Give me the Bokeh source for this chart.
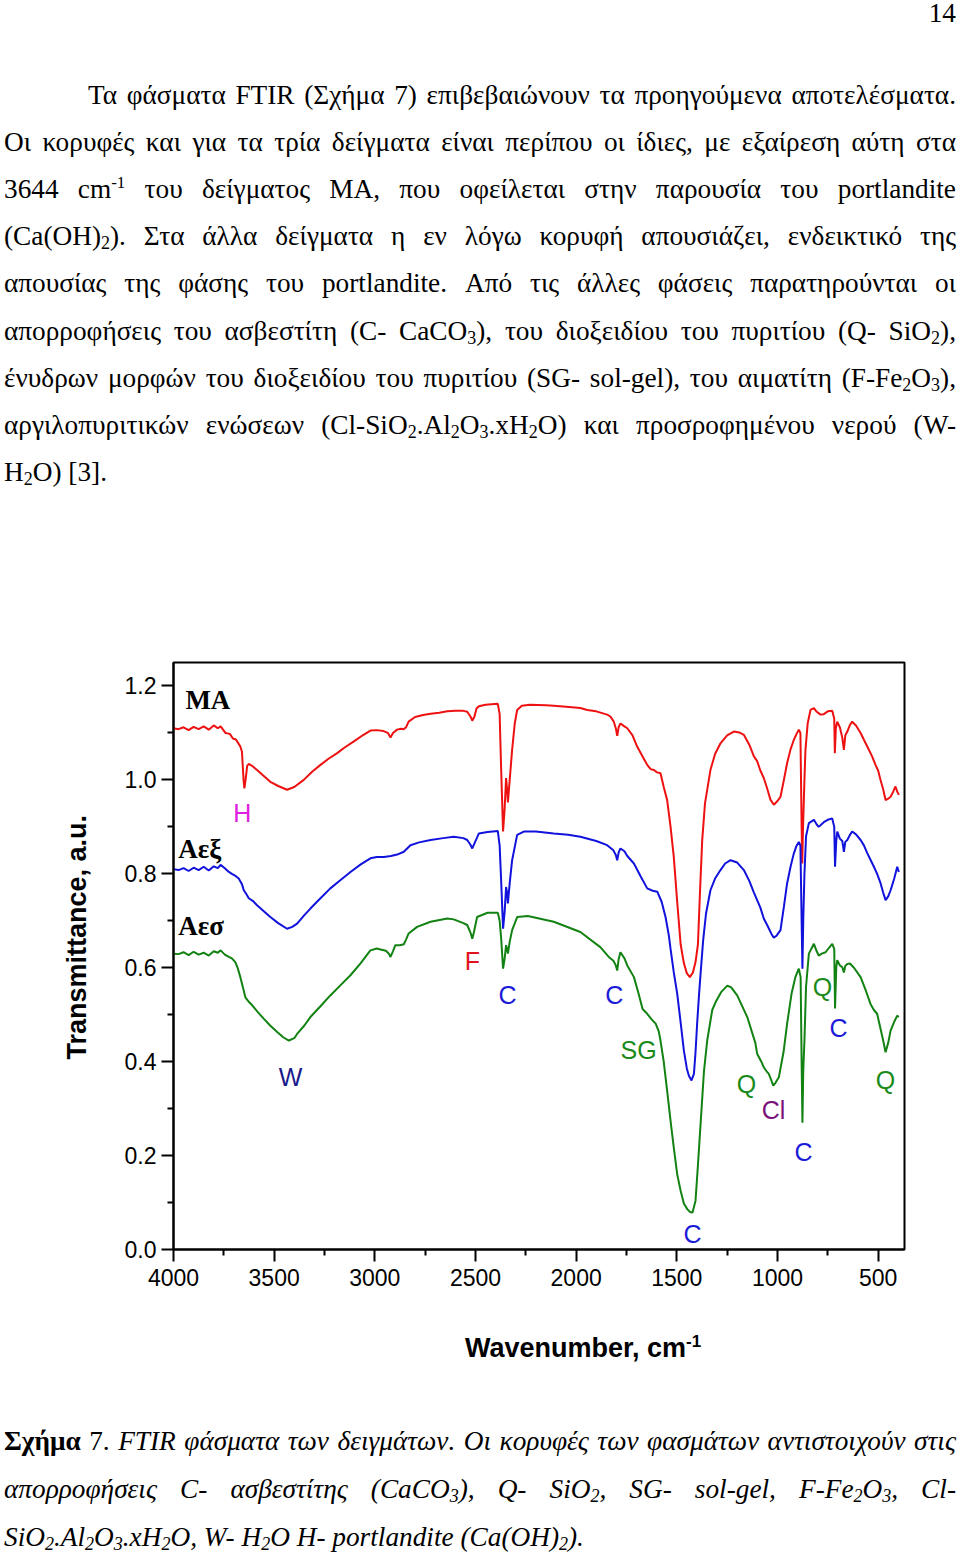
from bokeh.plotting import figure
from bokeh.models import Range1d, FixedTicker, NumeralTickFormatter, Div, ColumnDataSource
from bokeh.layouts import column
from bokeh.embed import file_html
from bokeh.resources import INLINE
from bokeh.core.properties import value

# ---------------- data ----------------
ma_wn = [4000, 3975, 3950, 3925, 3900, 3875, 3850, 3825, 3800, 3780, 3766, 3742, 3720, 3705, 3690, 3684,
         3668, 3660, 3652, 3648, 3642, 3634, 3626, 3610, 3585, 3550, 3519, 3480, 3436, 3400, 3353, 3310,
         3270, 3230, 3187, 3150, 3104, 3060, 3022, 2990, 2957, 2935, 2922, 2910, 2889, 2870, 2857, 2845,
         2832, 2800, 2760, 2723, 2680, 2640, 2600, 2560, 2541, 2525, 2516, 2505, 2495, 2483, 2450, 2420,
         2389, 2380, 2373, 2363, 2355, 2348, 2343, 2339, 2330, 2318, 2305, 2293, 2270, 2230, 2150, 2111,
         2050, 1979, 1945, 1900, 1846, 1830, 1813, 1803, 1796, 1789, 1780, 1760, 1746, 1720, 1697, 1670,
         1647, 1630, 1614, 1598, 1581, 1565, 1548, 1531, 1515, 1498, 1481, 1465, 1450, 1435, 1420, 1407,
         1395, 1385, 1374, 1360, 1333, 1310, 1283, 1250, 1217, 1190, 1167, 1140, 1117, 1101, 1085, 1068,
         1050, 1035, 1018, 1000, 985, 968, 952, 935, 919, 905, 894, 886, 880, 877, 873, 866, 861, 850,
         836, 819, 805, 786, 770, 750, 728, 718, 715, 710, 703, 690, 678, 670, 663, 653, 640, 629, 610,
         587, 570, 554, 530, 513, 500, 488, 475, 463, 450, 438, 425, 414, 405, 397]
ma_t = [1.110, 1.108, 1.112, 1.106, 1.113, 1.108, 1.114, 1.107, 1.116, 1.110, 1.114, 1.100, 1.098, 1.088,
        1.086, 1.082, 1.071, 1.060, 1.000, 0.982, 1.000, 1.030, 1.034, 1.030, 1.021, 1.008, 0.996, 0.987,
        0.979, 0.985, 1.000, 1.018, 1.032, 1.045, 1.057, 1.069, 1.082, 1.095, 1.105, 1.106, 1.104, 1.100,
        1.090, 1.100, 1.107, 1.109, 1.108, 1.112, 1.124, 1.134, 1.138, 1.141, 1.143, 1.146, 1.147, 1.147,
        1.145, 1.135, 1.126, 1.135, 1.152, 1.157, 1.160, 1.161, 1.162, 1.140, 1.030, 0.890, 0.940, 1.004,
        0.980, 0.952, 1.000, 1.064, 1.120, 1.149, 1.158, 1.160, 1.159, 1.158, 1.156, 1.153, 1.149, 1.146,
        1.139, 1.135, 1.124, 1.110, 1.094, 1.112, 1.120, 1.114, 1.110, 1.095, 1.071, 1.050, 1.032, 1.023,
        1.021, 1.016, 1.014, 0.985, 0.957, 0.900, 0.836, 0.740, 0.650, 0.610, 0.588, 0.580, 0.590, 0.612,
        0.650, 0.760, 0.870, 0.950, 1.021, 1.055, 1.078, 1.095, 1.103, 1.101, 1.096, 1.075, 1.050, 1.040,
        1.020, 1.004, 0.980, 0.958, 0.947, 0.955, 0.964, 1.000, 1.036, 1.065, 1.085, 1.098, 1.107, 1.100,
        0.900, 0.822, 0.900, 1.000, 1.064, 1.120, 1.149, 1.153, 1.145, 1.139, 1.140, 1.146, 1.147, 1.130,
        1.057, 1.110, 1.124, 1.112, 1.090, 1.064, 1.095, 1.103, 1.117, 1.124, 1.116, 1.100, 1.085, 1.071,
        1.050, 1.032, 1.020, 1.000, 0.980, 0.957, 0.960, 0.964, 0.975, 0.986, 0.975, 0.968]

aex_wn = [4000, 3975, 3950, 3925, 3900, 3875, 3850, 3825, 3800, 3780, 3766, 3745, 3725, 3710, 3690, 3676,
          3660, 3651, 3640, 3626, 3605, 3585, 3550, 3519, 3480, 3436, 3410, 3386, 3350, 3320, 3270, 3221,
          3170, 3121, 3070, 3022, 2990, 2955, 2920, 2889, 2856, 2823, 2780, 2723, 2660, 2608, 2560, 2541,
          2525, 2516, 2505, 2483, 2440, 2389, 2380, 2372, 2363, 2355, 2348, 2343, 2339, 2330, 2318, 2293,
          2260, 2200, 2111, 2040, 1979, 1900, 1846, 1815, 1803, 1796, 1789, 1780, 1760, 1746, 1713, 1680,
          1647, 1620, 1597, 1575, 1556, 1540, 1531, 1515, 1498, 1480, 1465, 1450, 1440, 1427, 1415, 1407,
          1399, 1390, 1382, 1369, 1355, 1333, 1310, 1283, 1260, 1233, 1200, 1167, 1140, 1117, 1101, 1085,
          1068, 1050, 1030, 1018, 1005, 985, 968, 952, 935, 919, 905, 894, 886, 880, 876, 872, 866, 858,
          844, 819, 805, 795, 770, 750, 728, 718, 714, 708, 703, 690, 678, 670, 663, 653, 640, 629, 610,
          587, 570, 554, 538, 521, 505, 488, 475, 463, 450, 438, 420, 405, 400, 397]
aex_t = [0.810, 0.808, 0.812, 0.806, 0.813, 0.808, 0.815, 0.807, 0.816, 0.812, 0.819, 0.812, 0.804, 0.800,
         0.795, 0.790, 0.778, 0.765, 0.758, 0.748, 0.742, 0.733, 0.720, 0.708, 0.695, 0.683, 0.687, 0.694,
         0.712, 0.726, 0.748, 0.769, 0.787, 0.804, 0.820, 0.833, 0.836, 0.836, 0.838, 0.841, 0.847, 0.861,
         0.867, 0.872, 0.876, 0.879, 0.876, 0.872, 0.862, 0.854, 0.865, 0.886, 0.889, 0.891, 0.860, 0.780,
         0.683, 0.720, 0.772, 0.760, 0.737, 0.780, 0.829, 0.883, 0.890, 0.890, 0.886, 0.883, 0.879, 0.870,
         0.861, 0.850, 0.840, 0.829, 0.845, 0.854, 0.848, 0.838, 0.822, 0.795, 0.769, 0.764, 0.762, 0.740,
         0.708, 0.670, 0.640, 0.590, 0.545, 0.480, 0.424, 0.385, 0.370, 0.360, 0.374, 0.420, 0.481, 0.540,
         0.587, 0.659, 0.715, 0.765, 0.790, 0.808, 0.822, 0.829, 0.824, 0.808, 0.785, 0.760, 0.744, 0.728,
         0.705, 0.690, 0.672, 0.664, 0.668, 0.680, 0.730, 0.780, 0.815, 0.843, 0.860, 0.868, 0.860, 0.700,
         0.598, 0.700, 0.800, 0.880, 0.908, 0.915, 0.905, 0.900, 0.910, 0.915, 0.918, 0.900, 0.815, 0.870,
         0.890, 0.875, 0.870, 0.847, 0.868, 0.872, 0.883, 0.890, 0.884, 0.872, 0.860, 0.844, 0.830, 0.815,
         0.800, 0.780, 0.760, 0.744, 0.752, 0.765, 0.790, 0.815, 0.808, 0.804]

aes_wn = [4000, 3975, 3950, 3925, 3900, 3875, 3850, 3825, 3800, 3780, 3766, 3745, 3725, 3710, 3693, 3680,
          3668, 3655, 3643, 3625, 3609, 3580, 3551, 3520, 3485, 3455, 3427, 3400, 3386, 3350, 3320, 3270,
          3221, 3170, 3121, 3070, 3022, 2990, 2972, 2945, 2930, 2922, 2910, 2898, 2875, 2856, 2845, 2832,
          2790, 2723, 2640, 2608, 2560, 2541, 2525, 2516, 2508, 2492, 2440, 2389, 2380, 2372, 2363, 2355,
          2348, 2343, 2339, 2330, 2318, 2293, 2240, 2111, 1979, 1880, 1838, 1815, 1803, 1796, 1789, 1780,
          1760, 1746, 1713, 1690, 1670, 1647, 1625, 1605, 1590, 1581, 1565, 1548, 1530, 1515, 1498, 1481,
          1465, 1448, 1435, 1422, 1407, 1395, 1382, 1365, 1349, 1324, 1307, 1280, 1249, 1230, 1200, 1150,
          1110, 1101, 1080, 1068, 1055, 1043, 1032, 1021, 1010, 993, 970, 952, 930, 911, 894, 885, 880,
          876, 872, 866, 858, 844, 819, 805, 795, 780, 761, 745, 728, 718, 714, 708, 703, 690, 678, 670,
          663, 653, 640, 620, 587, 560, 538, 521, 505, 488, 475, 463, 450, 438, 420, 405, 397]
aes_t = [0.630, 0.629, 0.633, 0.627, 0.634, 0.628, 0.632, 0.626, 0.635, 0.632, 0.637, 0.628, 0.623, 0.620,
         0.612, 0.598, 0.580, 0.558, 0.537, 0.527, 0.520, 0.505, 0.491, 0.477, 0.463, 0.452, 0.445, 0.450,
         0.459, 0.477, 0.495, 0.518, 0.541, 0.563, 0.584, 0.610, 0.637, 0.641, 0.639, 0.636, 0.630, 0.623,
         0.635, 0.648, 0.648, 0.650, 0.660, 0.673, 0.687, 0.698, 0.705, 0.703, 0.695, 0.691, 0.675, 0.662,
         0.675, 0.708, 0.717, 0.717, 0.700, 0.660, 0.598, 0.620, 0.648, 0.640, 0.630, 0.655, 0.680, 0.708,
         0.710, 0.698, 0.676, 0.644, 0.623, 0.615, 0.605, 0.594, 0.618, 0.633, 0.620, 0.605, 0.580, 0.545,
         0.512, 0.502, 0.490, 0.481, 0.465, 0.445, 0.400, 0.338, 0.270, 0.217, 0.160, 0.125, 0.098, 0.086,
         0.080, 0.079, 0.104, 0.180, 0.267, 0.380, 0.445, 0.510, 0.527, 0.548, 0.562, 0.558, 0.541, 0.495,
         0.440, 0.417, 0.400, 0.388, 0.380, 0.374, 0.362, 0.349, 0.355, 0.367, 0.420, 0.481, 0.545, 0.580,
         0.598, 0.580, 0.400, 0.270, 0.380, 0.445, 0.560, 0.630, 0.651, 0.635, 0.626, 0.630, 0.633, 0.642,
         0.651, 0.640, 0.513, 0.600, 0.616, 0.605, 0.601, 0.590, 0.604, 0.608, 0.609, 0.600, 0.580, 0.550,
         0.523, 0.510, 0.502, 0.470, 0.445, 0.420, 0.440, 0.466, 0.485, 0.498, 0.495]

sample_names = ["MA", "Αεξ", "Αεσ"]
sample_wn = [3941, 3976, 3976]
sample_y = [1.170, 0.852, 0.689]

peak_text = ["H", "F", "C", "C", "SG", "W", "Q", "Cl", "C", "C", "Q", "C", "Q"]
peak_wn = [3658, 2515, 2341, 1810, 1690, 3419, 1154, 1020, 871, 1422, 776, 697, 463]
peak_y = [0.930, 0.614, 0.541, 0.541, 0.424, 0.368, 0.353, 0.298, 0.208, 0.033, 0.558, 0.471, 0.362]
peak_color = ["#e020e0", "#e0141e", "#1a1ad8", "#1a1ad8", "#1a8a1a", "#1a1a8c", "#1a8a1a", "#7a127a",
              "#1a1ad8", "#1a1ad8", "#1a8a1a", "#1a1ad8", "#1a8a1a"]

x_major = [4000, 3500, 3000, 2500, 2000, 1500, 1000, 500]
x_minor = [3750, 3250, 2750, 2250, 1750, 1250, 750]
y_major = [0.0, 0.2, 0.4, 0.6, 0.8, 1.0, 1.2]
y_minor = [0.1, 0.3, 0.5, 0.7, 0.9, 1.1]

# ---------------- text blocks ----------------
SERIF = "'Liberation Serif','Times New Roman',serif"
SANS = "'Liberation Sans',Arial,sans-serif"


def sub(s):
    return '<span style="font-size:0.66em;vertical-align:-0.22em;line-height:0">%s</span>' % s


def sup(s):
    return '<span style="font-size:0.62em;vertical-align:0.62em;line-height:0">%s</span>' % s


JUST = "text-align:justify;text-align-last:justify;"
LEFT = "text-align:left;text-align-last:left;"

body_lines = [
    "Τα φάσματα FTIR (Σχήμα 7) επιβεβαιώνουν τα προηγούμενα αποτελέσματα.",
    "Οι κορυφές και για τα τρία δείγματα είναι περίπου οι ίδιες, με εξαίρεση αύτη στα",
    "3644 cm" + sup("-1") + " του δείγματος ΜΑ, που οφείλεται στην παρουσία του portlandite",
    "(Ca(OH)" + sub("2") + "). Στα άλλα δείγματα η εν λόγω κορυφή απουσιάζει, ενδεικτικό της",
    "απουσίας της φάσης του portlandite. Από τις άλλες φάσεις παρατηρούνται οι",
    "απορροφήσεις του ασβεστίτη (C- CaCO" + sub("3") + "), του διοξειδίου του πυριτίου (Q- SiO" + sub("2") + "),",
    "ένυδρων μορφών του διοξειδίου του πυριτίου (SG- sol-gel), του αιματίτη (F-Fe" + sub("2") + "O" + sub("3") + "),",
    "αργιλοπυριτικών ενώσεων (Cl-SiO" + sub("2") + ".Al" + sub("2") + "O" + sub("3") + ".xH" + sub("2")
    + "O) και προσροφημένου νερού (W-",
    "H" + sub("2") + "O) [3].",
]

top_html = ['<div style="font-family:%s;font-size:27.3px;line-height:47.2px;color:#000;'
            'margin:0 0 0 4px;width:952px;padding-top:71.5px;">' % SERIF]
top_html.append('<div style="text-align:right;line-height:27px;height:0;position:relative;'
                'top:-71.5px;">14</div>')
for i, ln in enumerate(body_lines):
    style = (JUST if i < len(body_lines) - 1 else LEFT)
    if i == 0:
        style += "text-indent:84px;"
    top_html.append('<div style="%s">%s</div>' % (style, ln))
top_html.append("</div>")
top_div = Div(text="".join(top_html), width=960, height=560, margin=0)

xtitle_div = Div(text=('<div style="font-family:%s;font-size:27px;font-weight:bold;line-height:30px;'
                       'color:#000;padding-top:32.7px;margin-left:465px;white-space:nowrap;">Wavenumber, cm'
                       '<span style="font-size:17px;vertical-align:10px;line-height:0">-1</span></div>'
                       % SANS),
                 width=960, height=100, margin=0)

cap_lines = [
    "<b>Σχήμα</b> 7. <i>FTIR φάσματα των δειγμάτων. Οι κορυφές των φασμάτων αντιστοιχούν στις</i>",
    "<i>απορροφήσεις C- ασβεστίτης (CaCO" + sub("3") + "), Q- SiO" + sub("2") + ", SG- sol-gel, F-Fe"
    + sub("2") + "O" + sub("3") + ", Cl-</i>",
    "<i>SiO" + sub("2") + ".Al" + sub("2") + "O" + sub("3") + ".xH" + sub("2") + "O, W- H" + sub("2")
    + "O H- portlandite (Ca(OH)" + sub("2") + ").</i>",
]
cap_html = ['<div style="font-family:%s;font-size:27.3px;line-height:47.5px;color:#000;'
            'margin:0 0 0 4px;width:952px;padding-top:18px;">' % SERIF]
cap_html.append('<div style="%s">%s</div>' % (JUST, cap_lines[0]))
cap_html.append('<div style="%s">%s</div>' % (JUST, cap_lines[1]))
cap_html.append('<div style="%sline-height:30px;margin-top:8.8px;">%s</div>' % (LEFT, cap_lines[2]))
cap_html.append("</div>")
cap_div = Div(text="".join(cap_html), width=960, height=154, margin=0)

# ---------------- chart ----------------
p = figure(width=960, height=740, x_range=Range1d(4000, 369), y_range=Range1d(0, 1.25),
           output_backend="svg", toolbar_location=None,
           min_border_left=173, min_border_right=56, min_border_top=102, min_border_bottom=51)
p.grid.visible = False
p.outline_line_color = "black"
p.outline_line_width = 2
p.background_fill_color = "white"
p.border_fill_color = "white"

p.xaxis.ticker = FixedTicker(ticks=x_major, minor_ticks=x_minor)
p.yaxis.ticker = FixedTicker(ticks=y_major, minor_ticks=y_minor)
p.yaxis.formatter = NumeralTickFormatter(format="0.0")
for ax in (p.xaxis[0], p.yaxis[0]):
    ax.axis_line_width = 2
    ax.axis_line_color = "black"
    ax.major_tick_line_width = 2
    ax.minor_tick_line_width = 2
    ax.major_tick_line_color = "black"
    ax.minor_tick_line_color = "black"
    ax.major_tick_out = 12
    ax.major_tick_in = 0
    ax.minor_tick_out = 6
    ax.minor_tick_in = 0
    ax.major_label_text_font = "Liberation Sans"
    ax.major_label_text_font_size = "23px"
    ax.major_label_text_color = "black"
p.xaxis.major_label_standoff = 7
p.yaxis.major_label_standoff = 5

# leading no-break spaces lift the centred title to where the reference has it
p.yaxis.axis_label = "\u00a0" * 5 + "Transmittance, a.u."
p.yaxis.axis_label_text_font = "Liberation Sans"
p.yaxis.axis_label_text_font_style = "bold"
p.yaxis.axis_label_text_font_size = "27px"
p.yaxis.axis_label_text_color = "black"
p.yaxis.axis_label_standoff = 30

p.line(ma_wn, ma_t, line_color="#ee1111", line_width=2)
p.line(aex_wn, aex_t, line_color="#1212dd", line_width=2)
p.line(aes_wn, aes_t, line_color="#128212", line_width=2)

p.text(x=sample_wn, y=sample_y, text=sample_names, text_font=value("Liberation Serif"),
       text_font_style="bold", text_font_size="27px", text_align="left", text_baseline="middle",
       text_color="black")

psrc = ColumnDataSource(dict(x=peak_wn, y=peak_y, t=peak_text, c=peak_color))
p.text(x="x", y="y", text="t", text_color="c", source=psrc, text_font=value("Liberation Sans"),
       text_font_size="25px", text_align="center", text_baseline="middle")

layout = column(top_div, p, xtitle_div, cap_div, spacing=0)
open("out.html", "w").write(file_html(layout, INLINE))
